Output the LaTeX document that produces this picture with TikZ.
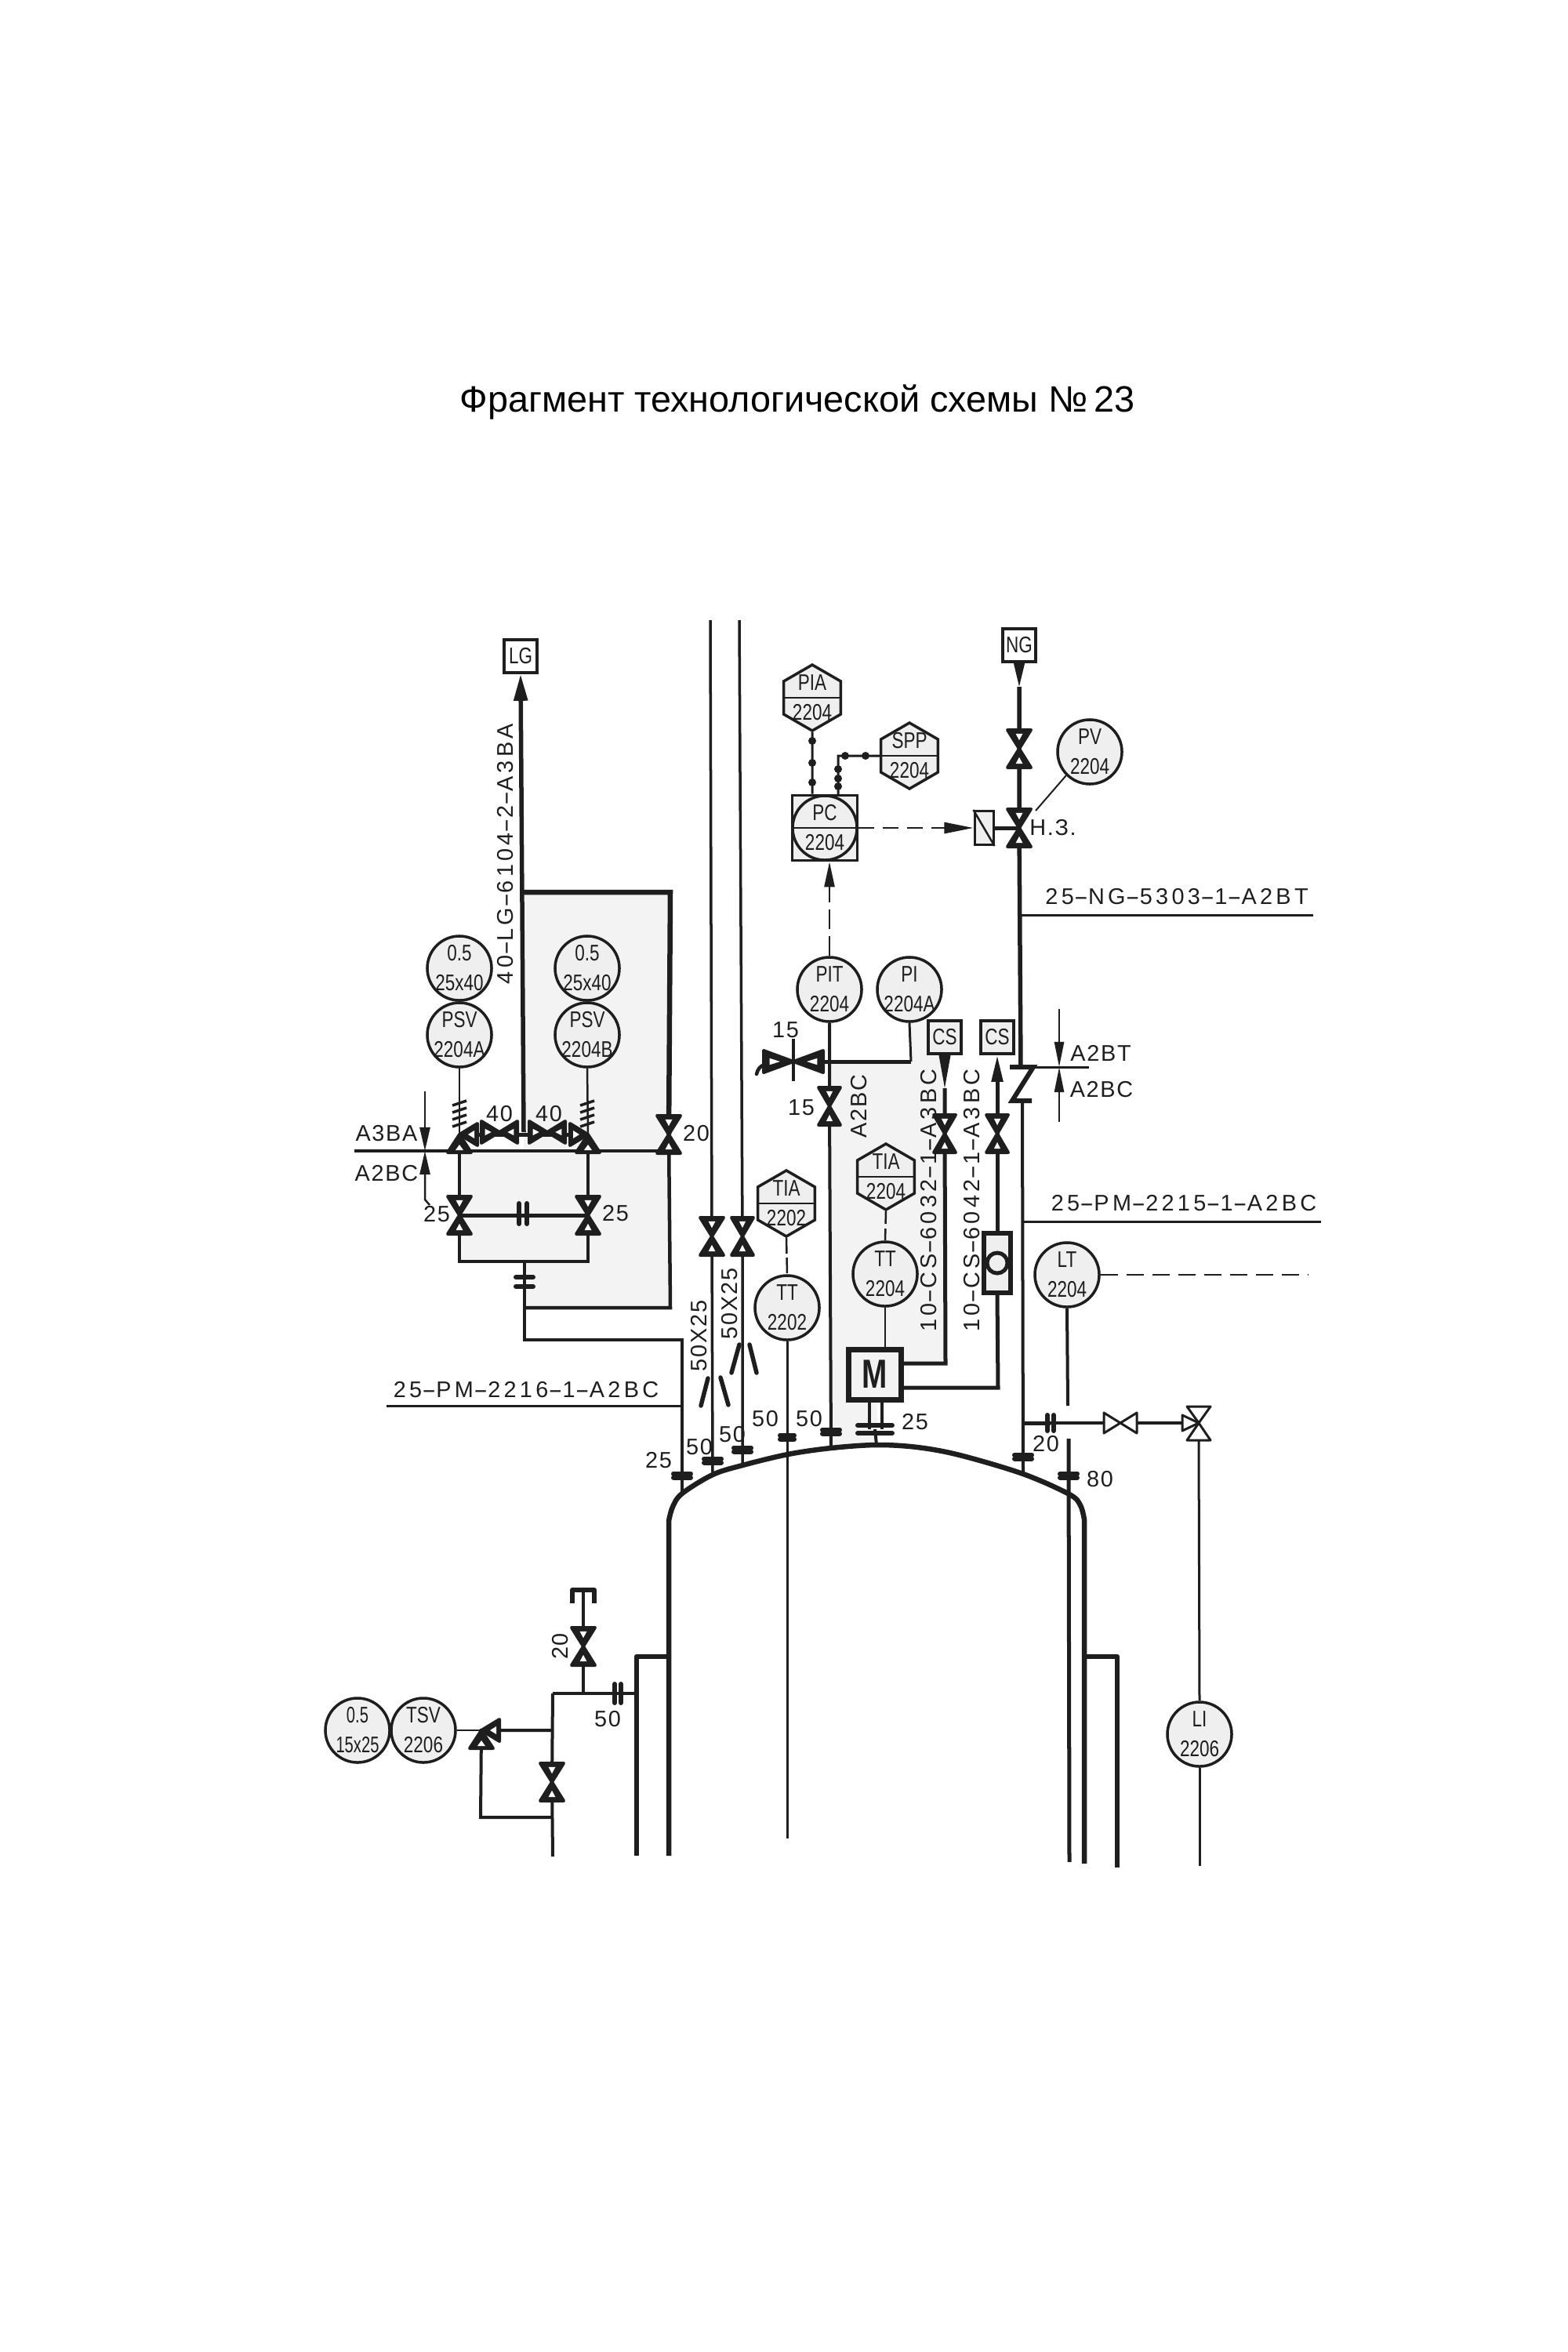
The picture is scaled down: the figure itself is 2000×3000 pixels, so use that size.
\documentclass[tikz,border=0pt]{standalone}
\usepackage{fontspec}
\usepackage{graphicx}
\setmainfont{Liberation Sans}
\newfontfamily\spacedfont[LetterSpace=15]{Liberation Sans}
\newfontfamily\shortfont[LetterSpace=6]{Liberation Sans}
\usetikzlibrary{arrows.meta,shapes.geometric}
\definecolor{ink}{HTML}{1E1E1E}
\definecolor{areagrey}{HTML}{F3F3F3}
\definecolor{dial}{HTML}{EFEFEF}
\newcommand{\inst}[3][.78]{\scalebox{#1}[1]{#2}\\\scalebox{#1}[1]{#3}}
\newcommand{\hy}{\scalebox{1.9}[1]{-}}
\newcommand{\nrw}[1]{\scalebox{.78}[1]{#1}}
\tikzset{
    instfont/.style={font=\fontsize{8.2}{10.8}\selectfont,text=ink,align=center},
    instr/.style={circle,draw=ink,fill=dial,line width=.035cm,inner sep=-2pt,minimum size=.82cm,instfont},
    alarm/.style={regular polygon,regular polygon sides=6,shape border rotate=30,draw=ink,fill=dial,line width=.035cm,inner sep=-4pt,minimum size=.84cm,instfont},
    panel/.style={rectangle,draw=ink,fill=dial,line width=.035cm,inner sep=0,minimum size=.83cm},
    endbox/.style={rectangle,draw=ink,fill=white,line width=.035cm,inner sep=0,minimum size=.42cm,font=\fontsize{8.2}{10}\selectfont,text=ink},
    tag/.style={inner sep=0,font=\fontsize{8.2}{10}\shortfont,text=ink},
    linetag/.style={inner sep=0,font=\fontsize{8.2}{10}\spacedfont,text=ink},
    thinline/.style={draw=ink,line width=.025cm},
    pipe/.style={draw=ink,line width=.04cm},
    heavypipe/.style={draw=ink,line width=.065cm},
    vessel/.style={draw=ink,line width=.065cm,line join=round},
    slash/.style={draw=ink,line width=.055cm,line cap=round},
    sigdot/.style={circle,fill=ink,inner sep=0,minimum width=.08cm,minimum height=.1cm},
    pics/bow/.style 2 args={code={
        \filldraw[ink,line width=.04cm,line join=round] (-#1,-#2) -- (#1,-#2) -- (-#1,#2) -- (#1,#2) -- cycle;
        \fill[white] (-.3*#1,-.8*#2) -- (.3*#1,-.8*#2) -- (0,-.45*#2) -- cycle;
        \fill[white] (-.3*#1,.8*#2) -- (.3*#1,.8*#2) -- (0,.45*#2) -- cycle;
    }},
    pics/relief/.style={code={
        \filldraw[ink,line width=.04cm,line join=round] (0,0) -- (-15,23) -- (15,23) -- cycle;
        \filldraw[ink,line width=.04cm,line join=round] (0,0) -- (23,-14) -- (23,14) -- cycle;
        \fill[white] (0,13) -- (-5,20) -- (5,20) -- cycle;
        \fill[white] (11,0) -- (19,-5) -- (19,5) -- cycle;
    }},
    pics/flange/.style 2 args={code={
        \draw[ink,line width=.06cm,line cap=round] (-#1,-#2) -- (#1,-#2) (-#1,#2) -- (#1,#2);
    }},
    pics/spring/.style={code={
        \foreach \dy in {0,9,18,27} \draw[ink,line width=.035cm] (-9,\dy+6) -- (9,\dy);
    }},
}
\begin{document}
\begin{tikzpicture}[x=.01cm,y=-.01cm]
    \useasboundingbox (0,0) rectangle (2000,3000);
    \fill[white] (0,0) rectangle (2000,3000);
    \node[inner sep=0,font=\fontsize{13.3}{16}\selectfont] (title) at (1017,513) {Фрагмент технологической схемы №\,23};

    % shaded areas
    \fill[areagrey] (668,1138) -- (853,1138) -- (853,1668) -- (669,1668) -- (669,1609) -- (586,1609) -- (586,1468) -- (668,1468) -- cycle;
    \fill[areagrey] (1058,1354) -- (1162,1354) -- (1162,1303) -- (1184,1303) -- (1184,1344) -- (1206,1344) -- (1206,1739) -- (1151,1739) -- (1151,1787) -- (1119,1787) -- (1119,1843) -- (1058,1847) -- cycle;

    % valves and junctions
    \def\valvesv{vA/853/1447/15/24,vB/586/1550/15/24,vC/750/1550/15/24,vD/908/1577/15/24,vE/947/1577/14/24,vF/1300/955/15/24,vG/1300/1056/15/24,vH/1058/1411/14/24,vI/1205/1446/14/24,vJ/1272/1446/14/24,vK/744/2100/15/24,vL/704/2273/15/24}
    \def\valvesh{vM/637/1444/14/23,vN/698/1444/14/23,vO/1012/1354/14/38}
    \foreach \nm/\px/\py/\w/\l in \valvesv \node[coordinate] (\nm) at (\px,\py) {};
    \foreach \nm/\px/\py/\w/\l in \valvesh \node[coordinate] (\nm) at (\px,\py) {};
    \def\flanges{fA/870/1882/11/2.5/0,fB/909/1863/11/2.5/0,fC/947/1849/11/2.5/0,fD/1004/1833/9/2.5/0,fE/1060/1826/11/2.5/0,fF/1116/1823/22/5/0,fG/1305/1858/11/2.5/0,fH/1363/1882/11/2.5/0,fI/669/1635/11/6/0,fJ/667/1548/13/5/90,fK/1340/1815/10/4/90,fL/788/2160/12/4/90}
    \foreach \nm/\px/\py/\w/\g/\r in \flanges \node[coordinate] (\nm) at (\px,\py) {};
    \coordinate (domeA) at (870,1905);
    \coordinate (domeB) at (909,1881);
    \coordinate (domeC) at (947,1869);
    \coordinate (domeD) at (1005,1855);
    \coordinate (domeE) at (1060,1847);
    \coordinate (domeF) at (1118,1843);
    \coordinate (domeG) at (1305,1880);
    \coordinate (domeH) at (1364,1906);

    % boxes and instruments
    \node[endbox] (lg) at (664,837) {\nrw{LG}};
    \node[endbox] (ng) at (1300,823) {\nrw{NG}};
    \node[endbox,fill=dial] (csA) at (1205,1323) {\nrw{CS}};
    \node[endbox,fill=dial] (csB) at (1272,1323) {\nrw{CS}};
    \node[instr] (orA) at (586,1235) {\inst{0.5}{25x40}};
    \node[instr] (psvA) at (586,1320) {\inst{PSV}{2204A}};
    \node[instr] (orB) at (749,1235) {\inst{0.5}{25x40}};
    \node[instr] (psvB) at (749,1320) {\inst{PSV}{2204B}};
    \node[instr] (pv) at (1390,959) {\inst{PV}{2204}};
    \node[panel] (pcbox) at (1052,1056) {};
    \node[instr] (pc) at (pcbox) {\inst{PC}{2204}};
    \node[alarm] (pia) at (1036,890) {\inst{PIA}{2204}};
    \node[alarm] (spp) at (1160,964) {\inst{SPP}{2204}};
    \node[instr] (pit) at (1058,1262) {\inst{PIT}{2204}};
    \node[instr] (pi) at (1160,1262) {\inst{PI}{2204A}};
    \node[alarm] (tiaA) at (1130,1501) {\inst{TIA}{2204}};
    \node[instr] (ttA) at (1129,1625) {\inst{TT}{2204}};
    \node[alarm] (tiaB) at (1003,1535) {\inst{TIA}{2202}};
    \node[instr] (ttB) at (1004,1668) {\inst{TT}{2202}};
    \node[instr] (lt) at (1361,1626) {\inst{LT}{2204}};
    \node[instr] (li) at (1530,2212) {\inst{LI}{2206}};
    \node[instr] (tsv) at (540,2207) {\inst{TSV}{2206}};
    \node[instr] (orC) at (456,2207) {\inst[.7]{0.5}{15x25}};
    \node[rectangle,draw=ink,fill=areagrey,line width=.07cm,minimum width=.66cm,minimum height=.64cm,inner sep=0,font=\fontsize{14.7}{16}\bfseries,text=ink] (motor) at (1116,1753) {\scalebox{.75}[1]{M}};
    \node[rectangle,draw=ink,fill=dial,line width=.06cm,minimum width=.34cm,minimum height=.75cm,inner sep=0] (rota) at (1272,1611) {};
    \node[circle,draw=ink,line width=.05cm,minimum size=.26cm,inner sep=0] (rotaball) at (rota) {};
    \foreach \nm in {pia,spp,tiaA,tiaB,pc} \draw[thinline] (\nm.west) -- (\nm.east);

    % LG line and its loop
    \coordinate (jGas) at (668,1444);
    \coordinate (cTop) at (668,1138);
    \coordinate (cTopR) at (855,1138);
    \coordinate (cBotR) at (855,1668);
    \coordinate (cBotL) at (669,1668);
    \coordinate (hdrL) at (452,1468);
    \coordinate (hdrA) at (586,1468);
    \coordinate (hdrC) at (750,1468);
    \coordinate (hdrR) at (855,1468);
    \coordinate (loopL) at (586,1609);
    \coordinate (loopR) at (750,1609);
    \coordinate (loopM) at (669,1609);
    \coordinate (bendA) at (669,1709);
    \coordinate (bendB) at (870,1709);
    \coordinate (rvA) at (586,1447);
    \coordinate (rvB) at (750,1447);
    \draw[heavypipe,line width=.055cm,-{Triangle[length=.34cm,width=.17cm]}] (jGas) -- (lg.south);
    \draw[heavypipe] (cTop) -- (cTopR) -- (vA);
    \draw[pipe,line width=.045cm] (vA) -- (cBotR) -- (cBotL);
    \draw[pipe,line width=.035cm] (hdrL) -- (hdrR);
    \draw[heavypipe,line width=.05cm] (rvA) -- (rvB);
    \draw[pipe] (hdrA) -- (loopL) -- (loopR) -- (hdrC);
    \draw[heavypipe,line width=.05cm] (vB) -- (vC);
    \draw[pipe] (loopM) -- (bendA) -- (bendB) -- (domeA);
    \draw[thinline] (psvA.south) -- (rvA);
    \draw[thinline] (psvB.south) -- (rvB);

    % vessel
    \draw[vessel] (853,2367) -- (853,1940) -- plot[smooth,tension=.55] coordinates {(853,1940) (858,1922) (870,1905) (909,1881) (947,1869) (1005,1855) (1060,1847) (1118,1843) (1170,1846) (1224,1856) (1305,1880) (1364,1906) (1378,1920) (1383,1938)} -- (1383,2377);
    \draw[vessel] (853,2113) -- (812,2113) -- (812,2367);
    \draw[vessel] (1383,2113) -- (1425,2113) -- (1425,2382);

    % nozzles on the dome
    \coordinate (pipeA) at (906,791);
    \coordinate (pipeB) at (943,791);
    \draw[pipe,line width=.035cm] (pipeA) -- (vD) -- (domeB);
    \draw[pipe,line width=.035cm] (pipeB) -- (vE) -- (domeC);
    \draw[thinline,dash pattern=on .2cm off .05cm] (tiaB.south) -- (ttB.north);
    \coordinate (ttBend) at (1004,2345);
    \draw[thinline,line width=.03cm] (ttB.south) -- (ttBend);
    \draw[pipe] (pit.south) -- (vH) -- (domeE);
    \draw[thinline,dash pattern=on .16cm off .06cm] (tiaA.south) -- (ttA.north);
    \draw[thinline] (ttA.south) -- (ttA |- motor.north);
    \coordinate (shaftAa) at (1109,1787);
    \coordinate (shaftAb) at (1109,1823);
    \coordinate (shaftBa) at (1125,1787);
    \coordinate (shaftBb) at (1125,1823);
    \draw[pipe] (shaftAa) -- (shaftAb);
    \draw[pipe] (shaftBa) -- (shaftBb);
    \draw[pipe] (fF) -- (domeF);

    % PI branch
    \coordinate (jPit) at (1058,1354);
    \coordinate (jPi) at (1162,1354);
    \coordinate (vOstemA) at (1012,1325);
    \coordinate (vOstemB) at (1012,1379);
    \draw[heavypipe,line width=.05cm] (vO) -- (jPi);
    \draw[pipe,line width=.03cm] (jPi) -- (pi.south);
    \draw[pipe] (vOstemA) -- (vOstemB);
    \draw[heavypipe,line cap=round,line width=.045cm] (965,1370) .. controls (968,1358) and (975,1354) .. (vO);

    % NG line
    \coordinate (zTop) at (1302,1361);
    \coordinate (zBot) at (1304,1404);
    \coordinate (jNg) at (1303,1167);
    \coordinate (jPm) at (1304,1558);
    \coordinate (jBr) at (1304,1815);
    \coordinate (ngTip) at (1300,876);
    \draw[heavypipe,line width=.055cm] (ngTip) -- (vF) -- (vG) -- (zTop);
    \draw[thinline,-{Triangle[length=.31cm,width=.14cm]}] (ng.south) -- (ngTip);
    \draw[heavypipe,line width=.06cm,line join=miter] (1288,1361) -- (1318,1361) -- (1291,1404) -- (1316,1404);
    \draw[pipe] (zBot) -- (domeG);
    \coordinate (ngEnd) at (1675,1167);
    \coordinate (pmEnd) at (1685,1558);
    \coordinate (pmLeft) at (493,1793);
    \coordinate (pmRight) at (870,1793);
    \draw[thinline,line width=.03cm] (jNg) -- (ngEnd);
    \draw[thinline,line width=.03cm] (jPm) -- (pmEnd);
    \draw[thinline,line width=.03cm] (pmLeft) -- (pmRight);

    % PC signals
    \node[rectangle,draw=ink,fill=dial,line width=.03cm,minimum width=.24cm,minimum height=.43cm,inner sep=0] (act) at (1255,1056) {};
    \draw[thinline] (act.north west) -- (act.south east);
    \draw[heavypipe,line width=.05cm] (act.east) -- (vG);
    \draw[thinline,dash pattern=on .2cm off .11cm,-{Triangle[length=.37cm,width=.14cm]}] (pc.east) -- (act.west);
    \draw[thinline,dash pattern=on .25cm off .09cm,-{Triangle[length=.32cm,width=.13cm]}] (pit.north) -- (pit |- pcbox.south);
    \draw[thinline,line width=.03cm] (pia.south) -- (pia |- pcbox.north);
    \coordinate (sppBend) at (1069,964);
    \coordinate (sppFoot) at (1069,1015);
    \draw[thinline,line width=.03cm] (spp.west) -- (sppBend) -- (sppFoot);
    \foreach \px/\py [count=\i] in {1036/945,1036/973,1036/998,1078/964,1104/964,1069/981,1069/993,1069/1003}
        \node[sigdot] (sig\i) at (\px,\py) {};
    \coordinate (pvLead) at (1321,1034);
    \draw[thinline,line width=.02cm] (pv.south west) -- (pvLead);

    % CS lines to the motor
    \coordinate (csAbend) at (1206,1739);
    \coordinate (csBbend) at (1273,1770);
    \coordinate (csAtip) at (1205,1388);
    \draw[pipe,line width=.05cm] (csAtip) -- (vI) -- (csAbend) -- (csAbend -| motor.east);
    \draw[thinline,-{Triangle[length=.44cm,width=.15cm]}] (csA.south) -- (csAtip);
    \draw[pipe,line width=.05cm,{Triangle[length=.34cm,width=.14cm]}-] (csB.south) -- (vJ) -- (rota.north);
    \draw[pipe,line width=.05cm] (rota.south) -- (csBbend) -- (csBbend -| motor.east);

    % level branch
    \coordinate (tw) at (1529,1815);
    \node[coordinate] (gate) at (1429,1815) {};
    \draw[thinline,line width=.035cm] (jBr) -- (tw);
    \draw[pipe,line width=.05cm] (jBr) -- (fK);
    \draw[thinline,line width=.03cm] (1529,1837) -- (li.north);
    \coordinate (liEnd) at (1530,2380);
    \draw[thinline,line width=.03cm] (li.south) -- (liEnd);
    \coordinate (ltStop) at (1362,1793);
    \coordinate (ltStart) at (1363,1835);
    \coordinate (ltEnd) at (1364,2375);
    \coordinate (ltDash) at (1669,1626);
    \draw[pipe] (lt.south) -- (ltStop);
    \draw[pipe,line width=.05cm] (ltStart) -- (ltEnd);
    \draw[thinline,dash pattern=on .22cm off .11cm] (lt.east) -- (ltDash);
    \draw[ink,line width=.03cm,fill=white,line join=round] (gate) ++(-21,-13) -- ++(0,26) -- ++(42,-26) -- ++(0,26) -- cycle;
    \draw[ink,line width=.03cm,fill=white,line join=round] (tw) -- (1514,1794) -- (1544,1794) -- cycle;
    \draw[ink,line width=.03cm,fill=white,line join=round] (tw) -- (1514,1837) -- (1544,1837) -- cycle;
    \draw[ink,line width=.03cm,fill=white,line join=round] (tw) -- (1508,1805) -- (1508,1825) -- cycle;

    % TSV bypass and drain
    \coordinate (jTop) at (705,2160);
    \coordinate (jWall) at (812,2160);
    \coordinate (jCap) at (744,2160);
    \coordinate (capA) at (744,2028);
    \coordinate (jRv) at (705,2207);
    \coordinate (rvC) at (614,2207);
    \coordinate (rvOut) at (613,2318);
    \coordinate (jOut) at (705,2318);
    \coordinate (drainEnd) at (705,2368);
    \draw[pipe] (jTop) -- (jWall);
    \draw[pipe] (fL) -- (jWall);
    \draw[pipe] (jTop) -- (vL) -- (drainEnd);
    \draw[pipe,line width=.035cm] (jCap) -- (vK) -- (capA);
    \draw[pipe,line width=.06cm,line join=round] (730,2045) -- (730,2028) -- (758,2028) -- (758,2045);
    \draw[pipe] (jRv) -- (rvC) -- (rvOut) -- (jOut);
    \draw[thinline] (tsv.east) -- (rvC);

    % fittings
    \foreach \nm/\px/\py/\w/\l in \valvesv \pic at (\nm) {bow={\w}{\l}};
    \foreach \nm/\px/\py/\w/\l in \valvesh \pic[rotate=90] at (\nm) {bow={\w}{\l}};
    \foreach \nm/\px/\py/\w/\g/\r in \flanges \pic[rotate=\r] at (\nm) {flange={\w}{\g}};
    \pic at (rvA) {relief};
    \pic[xscale=-1] at (rvB) {relief};
    \pic at (rvC) {relief};
    \pic at (586,1404) {spring};
    \pic at (749,1404) {spring};

    % reducers
    \draw[slash] (903,1758) -- (894,1793);
    \draw[slash] (919,1757) -- (929,1792);
    \draw[slash] (943,1715) -- (933,1751);
    \draw[slash] (956,1715) -- (965,1751);

    % dividers
    \coordinate (divAtop) at (542,1392);
    \coordinate (divAcross) at (542,1468);
    \coordinate (divAlow) at (542,1530);
    \coordinate (divAfoot) at (548,1537);
    \coordinate (divBtop) at (1351,1287);
    \coordinate (divBcross) at (1351,1361);
    \coordinate (divBlow) at (1351,1431);
    \coordinate (divBend) at (1389,1361);
    \draw[thinline,-{Triangle[length=.3cm,width=.13cm]}] (divAtop) -- (divAcross);
    \draw[thinline,-{Triangle[length=.3cm,width=.13cm]}] (divAfoot) -- (divAlow) -- (divAcross);
    \draw[thinline,-{Triangle[length=.32cm,width=.12cm]}] (divBtop) -- (divBcross);
    \draw[thinline,-{Triangle[length=.32cm,width=.12cm]}] (divBlow) -- (divBcross);
    \draw[thinline,line width=.03cm] (1316,1361) -- (divBend);

    % labels
    \foreach \nm/\px/\py/\tx in {tA/637/1421/40,tB/700/1421/40,tC/888/1446/20,tD/557/1549/25,tE/785/1548/25,tF/840/1863/25,tG/892/1846/50,tH/934/1830/50,tI/976/1810/50,tJ/1032/1810/50,tK/1167/1814/25,tL/1334/1842/20,tM/1403/1887/80,tN/775/2193/50,tO/1022/1413/15,tP/1002/1314/15,tQ/493/1446/A3BA,tR/493/1497/A2BC,tS/1404/1343/A2BT,tT/1405/1390/A2BC,tU/1343/1056/Н.З.}
        \node[tag] (\nm) at (\px,\py) {\tx};
    \node[linetag] (lblA) at (671,1773) {25\hy PM\hy 2216\hy 1\hy A2BC};
    \node[linetag] (lblB) at (1501,1144) {25\hy NG\hy 5303\hy 1\hy A2BT};
    \node[linetag] (lblC) at (1510,1535) {25\hy PM\hy 2215\hy 1\hy A2BC};
    \node[linetag,rotate=90] (lblD) at (645,1089) {40\hy LG\hy 6104\hy 2\hy A3BA};
    \node[linetag,rotate=90] (lblE) at (1185,1531) {10\hy CS\hy 6032\hy 1\hy A3BC};
    \node[linetag,rotate=90] (lblF) at (1240,1531) {10\hy CS\hy 6042\hy 1\hy A3BC};
    \node[tag,rotate=90] (lblG) at (1096,1411) {A2BC};
    \node[tag,rotate=90] (lblH) at (892,1704) {50X25};
    \node[tag,rotate=90] (lblI) at (931,1663) {50X25};
    \node[tag,rotate=90] (lblJ) at (715,2100) {20};
\end{tikzpicture}
\end{document}
